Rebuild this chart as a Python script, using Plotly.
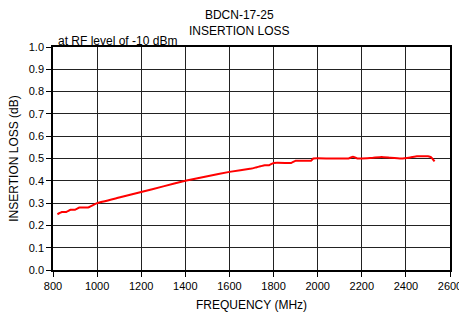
import plotly.graph_objects as go

freq = [820, 840, 860, 880, 900, 920, 940, 960, 980, 1000, 1100, 1200, 1300, 1400,
        1500, 1600, 1700, 1720, 1740, 1760, 1780, 1800, 1860, 1880, 1900, 1950, 1970,
        1980, 2050, 2120, 2140, 2160, 2180, 2200, 2250, 2290, 2330, 2380, 2420, 2450,
        2500, 2515, 2530]
loss = [0.25, 0.26, 0.26, 0.27, 0.27, 0.28, 0.28, 0.28, 0.29, 0.30, 0.325, 0.35, 0.375, 0.40,
        0.42, 0.44, 0.455, 0.46, 0.465, 0.47, 0.47, 0.48, 0.48, 0.48, 0.49, 0.49, 0.49,
        0.50, 0.50, 0.50, 0.50, 0.508, 0.50, 0.50, 0.503, 0.507, 0.503, 0.50, 0.505, 0.51,
        0.51, 0.505, 0.487]

x_ticks = [800, 1000, 1200, 1400, 1600, 1800, 2000, 2200, 2400, 2600]
y_ticks = [0.0, 0.1, 0.2, 0.3, 0.4, 0.5, 0.6, 0.7, 0.8, 0.9, 1.0]

font = dict(family="Arial, Liberation Sans, sans-serif", size=11, color="#000")
font12 = dict(family="Arial, Liberation Sans, sans-serif", size=12, color="#000")

W, H = 459, 314
ML, MR, MT, MB = 53, 9, 47, 44
PW, PH = W - ML - MR, H - MT - MB

fig = go.Figure()
fig.add_trace(go.Scatter(x=freq, y=loss, mode="lines",
                         line=dict(color="#ff0000", width=2, shape="spline", smoothing=0.3),
                         showlegend=False, hoverinfo="skip"))

axis_common = dict(showgrid=True, gridcolor="#222", gridwidth=1, automargin=False,
                   showline=True, linecolor="#000", linewidth=1.5, mirror=True,
                   ticks="outside", ticklen=5, tickcolor="#000", tickwidth=1,
                   zeroline=False, tickfont=font, title_font=font12,
                   ticklabeloverflow="allow")

fig.update_layout(
    width=W, height=H,
    margin=dict(l=ML, r=MR, t=MT, b=MB, autoexpand=False),
    paper_bgcolor="white", plot_bgcolor="white",
    font=font,
    xaxis=dict(range=[800, 2600], tickvals=x_ticks, ticktext=[str(v) for v in x_ticks],
               title=dict(text="FREQUENCY (MHz)", standoff=10), **axis_common),
    yaxis=dict(range=[0, 1.0], tickvals=y_ticks, ticktext=[f"{v:.1f}" for v in y_ticks],
               title=dict(text="INSERTION LOSS (dB)", standoff=8), **axis_common),
    annotations=[
        dict(text="BDCN-17-25<br>INSERTION LOSS", x=(239 - ML) / PW, y=1 + (MT - 6) / PH,
             xref="paper", yref="paper",
             showarrow=False, font=font12, xanchor="center", yanchor="top"),
        dict(text="at RF level of -10 dBm", x=(56 - ML) / PW, y=1.0, xref="paper", yref="paper",
             showarrow=False, font=font12, xanchor="left", yanchor="bottom", yshift=-3),
    ],
)

fig.write_html("out.html", config={"displayModeBar": False},
               post_script="document.body.style.margin='0';document.body.style.overflow='hidden';")
